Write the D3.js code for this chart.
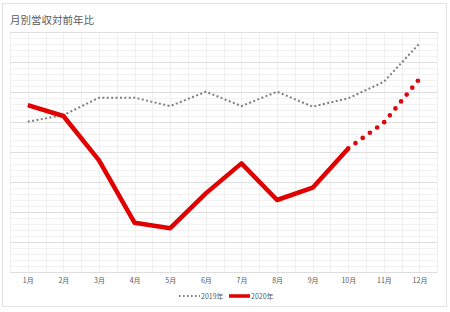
<!DOCTYPE html>
<html>
<head>
<meta charset="utf-8">
<script src="https://cdn.jsdelivr.net/npm/d3@7"></script>
<style>
  html, body { margin: 0; padding: 0; background: #fff; }
  svg { display: block; font-family: "Noto Sans CJK JP", "Noto Sans", sans-serif; }
</style>
</head>
<body>
<div id="chart"></div>
<script>
const months = ["1月", "2月", "3月", "4月", "5月", "6月", "7月", "8月", "9月", "10月", "11月", "12月"];
const sales2019 = [90.1, 92.3, 98.1, 98.1, 95.3, 100.1, 95.3, 100.1, 95.1, 97.9, 103.4, 116.2];
const sales2020 = [95.6, 92.0, 77.2, 56.4, 54.6, 66.2, 76.2, 64.0, 68.1, 81.2];
const forecastMonths = ["10月", "11月", "12月"];
const forecast2020 = [81.2, 89.8, 104.4];
const legendLabels = ["2019年", "2020年"];

const width = 450, height = 312;
const plot = { left: 10, right: 437.3, top: 32, bottom: 272 };

const svg = d3.select("#chart").append("svg").attr("width", width).attr("height", height);

svg.append("rect")
  .attr("x", 2.5).attr("y", 3.5).attr("width", 444).attr("height", 303)
  .attr("fill", "#fff").attr("stroke", "#e3e3e3");

svg.append("text")
  .attr("x", 10).attr("y", 24)
  .attr("font-size", 10.5).attr("fill", "#595959")
  .text("月別営収対前年比");

const x = d3.scalePoint().domain(months).range([plot.left, plot.right]).padding(0.5);
const y = d3.scaleLinear().domain([40, 120]).range([plot.bottom, plot.top]);

const grid = svg.append("g");
// minor horizontal lines
grid.selectAll(".minor").data(d3.range(40, 121, 2).filter((v) => v % 10 !== 0)).join("line")
  .attr("x1", plot.left).attr("x2", plot.right)
  .attr("y1", (d) => Math.round(y(d)) + 0.5).attr("y2", (d) => Math.round(y(d)) + 0.5)
  .attr("stroke", "#f2f2f2");
// vertical lines (category boundaries and centres)
const half = x.step() / 2;
const vx = months.flatMap((m) => [x(m) - half, x(m)]).concat([plot.right]);
grid.selectAll(".v").data(vx).join("line")
  .attr("x1", (d) => Math.round(d) + 0.5).attr("x2", (d) => Math.round(d) + 0.5)
  .attr("y1", plot.top).attr("y2", plot.bottom)
  .attr("stroke", "#efefef");
// major horizontal lines
grid.selectAll(".major").data(y.ticks(8)).join("line")
  .attr("x1", plot.left).attr("x2", plot.right)
  .attr("y1", (d) => Math.round(y(d)) + 0.5).attr("y2", (d) => Math.round(y(d)) + 0.5)
  .attr("stroke", "#dedede").attr("stroke-width", 1.2);

// x axis labels
const xAxis = svg.append("g")
  .attr("transform", `translate(0,${plot.bottom})`)
  .call(d3.axisBottom(x).tickSize(0).tickPadding(6));
xAxis.select(".domain").remove();
xAxis.selectAll("text").attr("font-size", 7).attr("fill", "#595959")
  .attr("font-family", "\"Noto Sans CJK JP\", sans-serif");

const line = d3.line().x((d) => x(d[0])).y((d) => y(d[1]));

svg.append("path")
  .datum(months.map((m, i) => [m, sales2019[i]]))
  .attr("d", line)
  .attr("fill", "none").attr("stroke", "#7f7f7f")
  .attr("stroke-width", 2).attr("stroke-dasharray", "2 2.4");

svg.append("path")
  .datum(forecastMonths.map((m, i) => [m, forecast2020[i]]))
  .attr("d", line)
  .attr("fill", "none").attr("stroke", "#dc0a0f")
  .attr("stroke-width", 4.7).attr("stroke-linecap", "round")
  .attr("stroke-dasharray", "0 8.9").attr("stroke-dashoffset", -8.9);

svg.append("path")
  .datum(sales2020.map((v, i) => [months[i], v]))
  .attr("d", line)
  .attr("fill", "none").attr("stroke", "#e00000")
  .attr("stroke-width", 4.5).attr("stroke-linejoin", "round");

// legend
const legend = svg.append("g").attr("transform", "translate(0,296)");
legend.append("line")
  .attr("x1", 179).attr("x2", 200).attr("y1", 0).attr("y2", 0)
  .attr("stroke", "#7f7f7f").attr("stroke-width", 1.9).attr("stroke-dasharray", "1.6 2.4");
legend.append("text").attr("x", 201).attr("y", 2.5)
  .attr("font-size", 7).attr("fill", "#595959").text(legendLabels[0]);
legend.append("line")
  .attr("x1", 229).attr("x2", 250).attr("y1", 0).attr("y2", 0)
  .attr("stroke", "#e00000").attr("stroke-width", 3.5);
legend.append("text").attr("x", 251).attr("y", 2.5)
  .attr("font-size", 7).attr("fill", "#595959").text(legendLabels[1]);
</script>
</body>
</html>
